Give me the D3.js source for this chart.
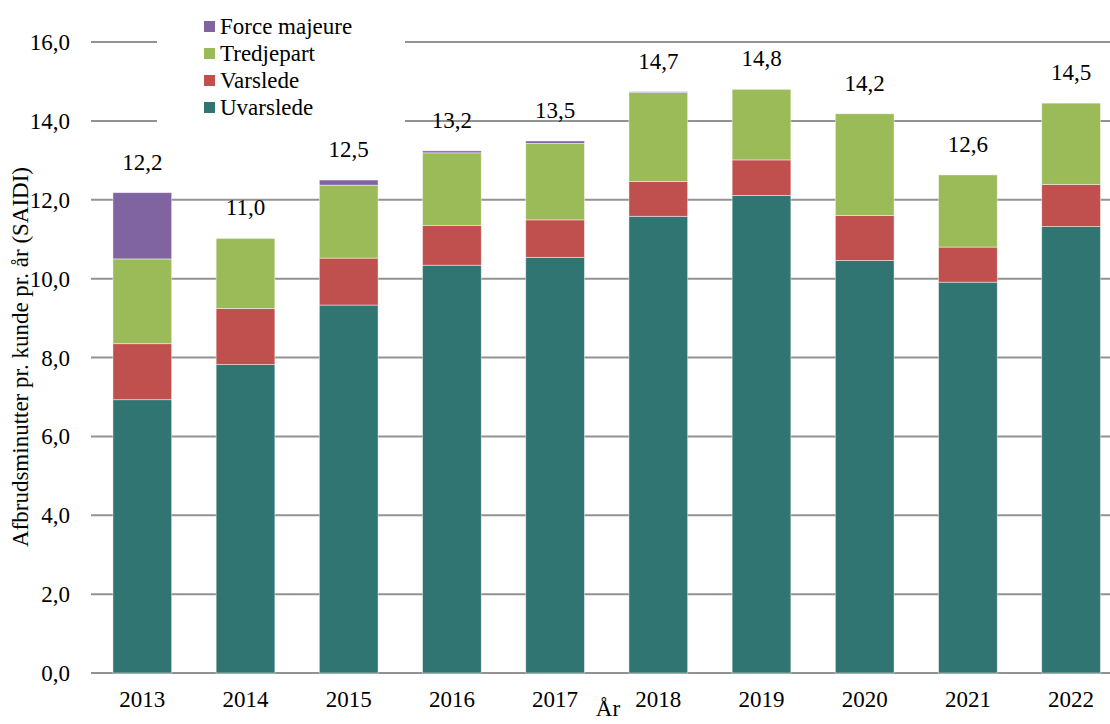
<!DOCTYPE html>
<html>
<head>
<meta charset="utf-8">
<script src="https://cdn.jsdelivr.net/npm/d3@7"></script>
<style>
  body { margin: 0; background: #fff; }
  text { font-family: "Liberation Serif", "Times New Roman", serif; fill: #000; }
</style>
</head>
<body>
<svg id="chart" width="1110" height="724"></svg>
<script>
// data
let years = ["2013", "2014", "2015", "2016", "2017", "2018", "2019", "2020", "2021", "2022"];
let uvarslede   = [6.93, 7.82, 9.33, 10.34, 10.54, 11.58, 12.11, 10.46, 9.91, 11.32];
let varslede    = [1.42, 1.42, 1.19, 1.01, 0.95, 0.88, 0.90, 1.14, 0.89, 1.07];
let tredjepart  = [2.15, 1.78, 1.85, 1.84, 1.94, 2.26, 1.79, 2.58, 1.83, 2.06];
let forceMajeure = [1.68, 0, 0.13, 0.05, 0.06, 0.02, 0, 0, 0, 0];
let totals = ["12,2", "11,0", "12,5", "13,2", "13,5", "14,7", "14,8", "14,2", "12,6", "14,5"];
let yTicks = [0, 2, 4, 6, 8, 10, 12, 14, 16];

let seriesNames = ["Uvarslede", "Varslede", "Tredjepart", "Force majeure"];
let seriesColors = ["#317572", "#c0504d", "#9bbb59", "#8064a2"];

let svg = d3.select("#chart");
let fontSize = 23;

let rows = years.map(function(y, i) {
    return {
        year: y,
        "Uvarslede": uvarslede[i],
        "Varslede": varslede[i],
        "Tredjepart": tredjepart[i],
        "Force majeure": forceMajeure[i]
    };
});

let x = d3.scaleBand()
    .domain(years)
    .range([90.7, 1122.7])
    .paddingInner(0.431)
    .paddingOuter(0.2155);

let y = d3.scaleLinear()
    .domain([0, 16])
    .range([673, 42]);

// gridlines
svg.append("g")
    .selectAll("line")
    .data(yTicks)
    .join("line")
    .attr("x1", 91)
    .attr("x2", 1110)
    .attr("y1", d => y(d))
    .attr("y2", d => y(d))
    .attr("stroke", "#929292")
    .attr("stroke-width", 2);

// y tick labels
svg.append("g")
    .selectAll("text")
    .data(yTicks)
    .join("text")
    .attr("x", 70)
    .attr("y", d => y(d) + 8)
    .attr("text-anchor", "end")
    .style("font-size", fontSize + "px")
    .text(d => d3.format(".1f")(d).replace(".", ","));

// stacked bars
let stack = d3.stack().keys(seriesNames);
let layers = stack(rows);

svg.append("g")
    .selectAll("g")
    .data(layers)
    .join("g")
    .attr("fill", (d, i) => seriesColors[i])
    .selectAll("rect")
    .data(d => d)
    .join("rect")
    .attr("x", d => x(d.data.year))
    .attr("width", x.bandwidth())
    .attr("y", d => y(d[1]))
    .attr("height", d => y(d[0]) - y(d[1]))
    .attr("stroke", "rgba(255,255,255,0.55)")
    .attr("stroke-width", 0.8);

// totals above bars
svg.append("g")
    .selectAll("text")
    .data(rows)
    .join("text")
    .attr("x", d => x(d.year) + x.bandwidth() / 2)
    .attr("y", (d, i) => y(uvarslede[i] + varslede[i] + tredjepart[i] + forceMajeure[i]) - 23)
    .attr("text-anchor", "middle")
    .style("font-size", fontSize + "px")
    .text((d, i) => totals[i]);

// x tick labels
svg.append("g")
    .selectAll("text")
    .data(years)
    .join("text")
    .attr("x", d => x(d) + x.bandwidth() / 2)
    .attr("y", 707)
    .attr("text-anchor", "middle")
    .style("font-size", fontSize + "px")
    .text(d => d);

// axis titles
svg.append("text")
    .attr("x", 608)
    .attr("y", 716)
    .attr("text-anchor", "middle")
    .style("font-size", fontSize + "px")
    .text("År");

svg.append("text")
    .attr("transform", "translate(28,357) rotate(-90)")
    .attr("text-anchor", "middle")
    .style("font-size", fontSize + "px")
    .text("Afbrudsminutter pr. kunde pr. år (SAIDI)");

// legend, drawn on a white box over the gridlines
let legend = svg.append("g");
legend.append("rect")
    .attr("x", 157)
    .attr("y", 0)
    .attr("width", 248)
    .attr("height", 128)
    .attr("fill", "#fff");

let legendOrder = [3, 2, 1, 0];
legendOrder.forEach(function(k, i) {
    let cy = 27 + i * 27;
    legend.append("rect")
        .attr("x", 204)
        .attr("y", cy - 6)
        .attr("width", 11)
        .attr("height", 11)
        .attr("fill", seriesColors[k]);
    legend.append("text")
        .attr("x", 220)
        .attr("y", cy + 7)
        .style("font-size", fontSize + "px")
        .text(seriesNames[k]);
});
</script>
</body>
</html>
